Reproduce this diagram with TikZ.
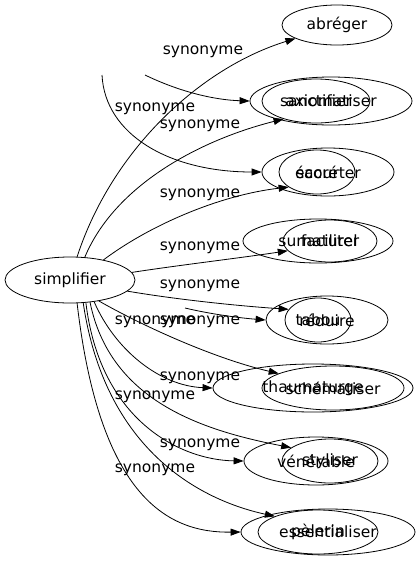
\documentclass[tikz,border=0pt]{standalone}
\usepackage{fontspec}
\setmainfont{DejaVu Sans}
\usetikzlibrary{shapes.geometric,arrows.meta}
\begin{document}
\begin{tikzpicture}[x=1pt,y=-1pt,
  nd/.style={ellipse,draw,line width=0.8pt,inner sep=0pt,font=\fontsize{15.5}{18}\selectfont},
  lbl/.style={font=\fontsize{15.5}{18}\selectfont,inner sep=0pt},
  edge/.style={line width=0.8pt,-{Triangle[length=10pt,width=7pt]}}]
\fill[white] (0,0) rectangle (420,563);
\useasboundingbox (0,0) rectangle (420,563);
% nodes
\node[nd,minimum width=130pt,minimum height=46pt] (s) at (70,280) {simplifier};
\node[nd,minimum width=110pt,minimum height=40pt] (ab) at (337,25) {abréger};
\node[nd,minimum width=162pt,minimum height=48pt] (ax) at (331,101) {axiomatiser};
\node[nd,minimum width=108pt,minimum height=44pt] (sa) at (316,101) {sanctifier};
\node[nd,minimum width=132pt,minimum height=48pt] (ec) at (328,172) {écourter};
\node[nd,minimum width=76pt,minimum height=44pt] (sc) at (317,172) {sacré};
\node[nd,minimum width=150pt,minimum height=44pt] (su) at (318,241) {surnaturel};
\node[nd,minimum width=94pt,minimum height=42pt] (fa) at (330,241) {faciliter};
\node[nd,minimum width=122pt,minimum height=48pt] (re) at (327,320) {réduire};
\node[nd,minimum width=66pt,minimum height=44pt] (ta) at (318,320) {tabou};
\node[nd,minimum width=200pt,minimum height=48pt] (th) at (313,388) {thaumaturge};
\node[nd,minimum width=142pt,minimum height=44pt] (sh) at (333,388) {schématiser};
\node[nd,minimum width=144pt,minimum height=48pt] (ve) at (316,461) {vénérable};
\node[nd,minimum width=96pt,minimum height=44pt] (st) at (330,461) {styliser};
\node[nd,minimum width=174pt,minimum height=46pt] (es) at (328,532) {essentialiser};
\node[nd,minimum width=120pt,minimum height=44pt] (pe) at (318,532) {pèlerin};
% free ends
\coordinate (f1) at (102,75);
\coordinate (f2) at (145,75);
\coordinate (f3) at (185,308);
% edges
\draw[edge] (s.73) .. controls (112,150) and (200,68) .. (ab.198);
\draw[edge] (s.57) .. controls (115,185) and (200,140) .. (sa.209);
\draw[edge] (f1) .. controls (105,135) and (170,172) .. (ec.180);
\draw[edge] (f2) .. controls (180,92) and (215,100) .. (ax.180);
\draw[edge] (s.31) .. controls (150,225) and (220,195) .. (sc.208);
\draw[edge] (s.7) .. controls (180,265) and (240,258) .. (fa.193);
\draw[edge] (s.-11) .. controls (180,300) and (240,306) .. (ta.160);
\draw[edge] (f3) .. controls (210,314) and (240,318) .. (re.180);
\draw[edge] (s.-36) .. controls (150,330) and (220,360) .. (sh.165);
\draw[edge] (s.-42) .. controls (115,350) and (160,386) .. (th.180);
\draw[edge] (s.-48) .. controls (110,400) and (200,430) .. (st.161);
\draw[edge] (s.-55) .. controls (100,420) and (180,460) .. (ve.180);
\draw[edge] (s.-60) .. controls (105,450) and (200,500) .. (pe.160);
\draw[edge] (s.-73) .. controls (100,500) and (170,533) .. (es.180);
% labels
\node[lbl] (l1) at (203,52) {synonyme};
\node[lbl] (l2) at (155,109) {synonyme};
\node[lbl] (l3) at (200,126) {synonyme};
\node[lbl] (l4) at (200,195) {synonyme};
\node[lbl] (l5) at (200,248) {synonyme};
\node[lbl] (l6) at (200,286) {synonyme};
\node[lbl] (l7) at (155,322) {synonyme};
\node[lbl] (l8) at (200,322) {synonyme};
\node[lbl] (l9) at (200,378) {synonyme};
\node[lbl] (l10) at (155,397) {synonyme};
\node[lbl] (l11) at (200,445) {synonyme};
\node[lbl] (l12) at (155,470) {synonyme};
\end{tikzpicture}
\end{document}
